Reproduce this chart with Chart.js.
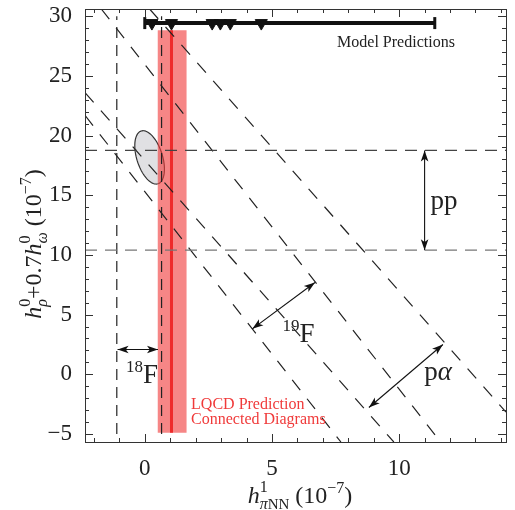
<!DOCTYPE html>
<html>
<head>
<meta charset="utf-8">
<script src="https://cdn.jsdelivr.net/npm/chart.js@4/dist/chart.umd.min.js"></script>
<style>
  html, body { margin: 0; padding: 0; background: #fff; }
  #wrap { width: 515px; height: 510px; }
</style>
</head>
<body>
<div id="wrap"><canvas id="c"></canvas></div>
<script>
// ---- data (units of 1e-7) ----
const xTickLabels = [0, 5, 10];
const yTickLabels = [-5, 0, 5, 10, 15, 20, 25, 30];

// pp band (horizontal) and 18F band (vertical)
const ppLevels = [18.75, 10.4];
const f18Levels = [-1.1, 0.66];
// diagonal bands, [x, y] endpoints
const f19Upper = [[-1.71, 30.6], [11.63, -5.67]];
const f19Lower = [[-2.35, 21.69], [7.71, -5.67]];
const pAlphaUpper = [[0.19, 30.6], [14.2, -3.16]];
const pAlphaLower = [[-2.35, 23.59], [9.79, -5.67]];

// model predictions for h1_pi
const modelRange = [0, 11.4];
const modelLevel = 29.42;
const modelPoints = [0.28, 1.05, 2.65, 2.97, 3.36, 4.58];

// LQCD connected-diagram prediction
const lqcdValue = 1.05;
const lqcdBand = [0.5, 1.65];
const lqcdSpan = [-4.9, 28.83];

// ellipse: centre and two half-axis vectors
const ellipseCenter = [0.19, 18.17];
const ellipseAxes = [[0.33, -2.21], [-0.48, -0.33]];

// double arrows
const ppArrow = [[11.0, 18.75], [11.0, 10.4]];
const f18Arrow = [[-1.07, 2.08], [0.52, 2.08]];
const f19Arrow = [[4.23, 3.81], [6.69, 7.69]];
const pAlphaArrow = [[8.81, -2.78], [11.72, 2.5]];

const xMin = -2.35, xMax = 14.2, yMin = -5.67, yMax = 30.6;
const FONT = "'Liberation Serif', 'DejaVu Serif', serif";

function pts(a) { return a.map(p => ({x: p[0], y: p[1]})); }
function dashed(a, color, dash) {
  return { data: pts(a), showLine: true, borderColor: color, borderWidth: 1.2,
           borderDash: dash, pointRadius: 0, fill: false, order: 2 };
}

const datasets = [];
// red band and line
datasets.push({ data: [{x: lqcdBand[0], y: lqcdSpan[1]}, {x: lqcdBand[1], y: lqcdSpan[1]}],
  showLine: true, borderWidth: 0, pointRadius: 0, fill: {value: lqcdSpan[0]},
  backgroundColor: 'rgba(240,60,60,0.62)', order: 10 });
datasets.push({ data: [{x: lqcdValue, y: lqcdSpan[0]}, {x: lqcdValue, y: lqcdSpan[1]}],
  showLine: true, borderColor: '#ee2a2a', borderWidth: 3, pointRadius: 0, fill: false, order: 9 });
// bands
ppLevels.forEach((v, i) => datasets.push(dashed([[xMin, v], [xMax, v]], i == 0 ? '#444' : '#777', [12, 8])));
f18Levels.forEach(v => datasets.push(dashed([[v, -5], [v, 30]], '#222', [11, 7])));
[f19Upper, f19Lower, pAlphaUpper, pAlphaLower].forEach(l => datasets.push(dashed(l, '#222', [13, 11])));
// model predictions
datasets.push({ data: [{x: modelRange[0], y: modelLevel}, {x: modelRange[1], y: modelLevel}],
  showLine: true, borderColor: '#111', borderWidth: 4, pointStyle: 'line', rotation: 90,
  pointRadius: 6, pointBorderWidth: 3, pointBorderColor: '#111', fill: false, order: 1 });
datasets.push({ data: modelPoints.map(v => ({x: v, y: modelLevel})),
  pointStyle: 'triangle', rotation: 180, pointRadius: 7, pointBackgroundColor: '#111',
  pointBorderColor: '#111', pointBorderWidth: 1, order: 0 });

function px(chart, p) {
  return [chart.scales.x.getPixelForValue(p[0]), chart.scales.y.getPixelForValue(p[1])];
}

function arrowHead(ctx, x, y, ang) {
  const L = 11, W = 3.8;
  ctx.beginPath();
  ctx.moveTo(x, y);
  ctx.lineTo(x - L * Math.cos(ang) + W * Math.sin(ang), y - L * Math.sin(ang) - W * Math.cos(ang));
  ctx.lineTo(x - L * Math.cos(ang) * 0.75, y - L * Math.sin(ang) * 0.75);
  ctx.lineTo(x - L * Math.cos(ang) - W * Math.sin(ang), y - L * Math.sin(ang) + W * Math.cos(ang));
  ctx.closePath();
  ctx.fill();
}
function doubleArrow(chart, a) {
  const ctx = chart.ctx;
  const [x1, y1] = px(chart, a[0]), [x2, y2] = px(chart, a[1]);
  const ang = Math.atan2(y2 - y1, x2 - x1);
  ctx.strokeStyle = '#111'; ctx.fillStyle = '#111'; ctx.lineWidth = 1.1;
  ctx.beginPath(); ctx.moveTo(x1, y1); ctx.lineTo(x2, y2); ctx.stroke();
  arrowHead(ctx, x2, y2, ang);
  arrowHead(ctx, x1, y1, ang + Math.PI);
}

// rich text: parts {t, s, i, dy, hold}
function richWidth(ctx, parts) {
  let w = 0;
  parts.forEach(p => { ctx.font = (p.i ? 'italic ' : '') + p.s + 'px ' + FONT; if (!p.hold) w += ctx.measureText(p.t).width; });
  return w;
}
function rich(ctx, x, y, parts) {
  let cx = x;
  ctx.textAlign = 'left'; ctx.textBaseline = 'alphabetic';
  parts.forEach(p => {
    ctx.font = (p.i ? 'italic ' : '') + p.s + 'px ' + FONT;
    ctx.fillText(p.t, cx, y + (p.dy || 0));
    if (!p.hold) cx += ctx.measureText(p.t).width;
  });
}

const xTitle = [
  {t: 'h', s: 24, i: true}, {t: '1', s: 16, dy: -11, hold: true},
  {t: 'π', s: 16, i: true, dy: 6}, {t: 'NN', s: 15, dy: 6},
  {t: ' (10', s: 24}, {t: '−7', s: 16, dy: -10}, {t: ')', s: 24}
];
const yTitle = [
  {t: 'h', s: 24, i: true}, {t: '0', s: 16, dy: -11, hold: true}, {t: 'ρ', s: 16, i: true, dy: 6},
  {t: '+0.7', s: 24}, {t: 'h', s: 24, i: true}, {t: '0', s: 16, dy: -11, hold: true},
  {t: 'ω', s: 16, i: true, dy: 6}, {t: ' (10', s: 24}, {t: '−7', s: 16, dy: -10}, {t: ')', s: 24}
];

const decor = {
  id: 'decor',
  beforeDatasetsDraw(chart) {
    const ctx = chart.ctx;
    ctx.save();
    ctx.beginPath();
    for (let k = 0; k <= 90; k++) {
      const t = k / 90 * 2 * Math.PI;
      const p = [ellipseCenter[0] + ellipseAxes[0][0] * Math.cos(t) + ellipseAxes[1][0] * Math.sin(t),
                 ellipseCenter[1] + ellipseAxes[0][1] * Math.cos(t) + ellipseAxes[1][1] * Math.sin(t)];
      const [x, y] = px(chart, p);
      k == 0 ? ctx.moveTo(x, y) : ctx.lineTo(x, y);
    }
    ctx.closePath();
    ctx.fillStyle = '#e0e0e3'; ctx.fill();
    ctx.strokeStyle = '#333'; ctx.lineWidth = 1.2; ctx.stroke();
    ctx.restore();
  },
  afterDatasetsDraw(chart) {
    const ctx = chart.ctx, a = chart.chartArea;
    ctx.save();
    // frame with inward ticks on all sides
    ctx.strokeStyle = '#333'; ctx.lineWidth = 1;
    ctx.strokeRect(a.left + 0.5, a.top + 0.5, a.right - a.left, a.bottom - a.top);
    ctx.beginPath();
    for (let v = -2; v <= 14; v++) {
      const x = Math.round(chart.scales.x.getPixelForValue(v)) + 0.5;
      const L = v % 5 == 0 ? 8 : 4;
      ctx.moveTo(x, a.bottom); ctx.lineTo(x, a.bottom - L);
      ctx.moveTo(x, a.top); ctx.lineTo(x, a.top + L);
    }
    for (let v = -5; v <= 30; v++) {
      const y = Math.round(chart.scales.y.getPixelForValue(v)) + 0.5;
      const L = v % 5 == 0 ? 8 : 4;
      ctx.moveTo(a.left, y); ctx.lineTo(a.left + L, y);
      ctx.moveTo(a.right, y); ctx.lineTo(a.right - L, y);
    }
    ctx.stroke();

    [ppArrow, f18Arrow, f19Arrow, pAlphaArrow].forEach(ar => doubleArrow(chart, ar));

    ctx.fillStyle = '#222';
    let p = px(chart, [11.23, 13.88]);
    rich(ctx, p[0], p[1], [{t: 'pp', s: 27}]);
    p = px(chart, [-0.74, -0.74]);
    rich(ctx, p[0], p[1], [{t: '18', s: 17, dy: -11}, {t: 'F', s: 27}]);
    p = px(chart, [5.41, 2.68]);
    rich(ctx, p[0], p[1], [{t: '19', s: 17, dy: -11}, {t: 'F', s: 27}]);
    p = px(chart, [10.99, -0.49]);
    rich(ctx, p[0], p[1], [{t: 'p', s: 27}, {t: 'α', s: 27, i: true}]);
    p = px(chart, [7.56, 27.44]);
    rich(ctx, p[0], p[1], [{t: 'Model Predictions', s: 16}]);
    ctx.fillStyle = '#f03a3a';
    p = px(chart, [1.82, -2.92]);
    rich(ctx, p[0], p[1], [{t: 'LQCD Prediction', s: 16}]);
    p = px(chart, [1.82, -4.17]);
    rich(ctx, p[0], p[1], [{t: 'Connected Diagrams', s: 16}]);

    // axis titles
    ctx.fillStyle = '#222';
    const wx = richWidth(ctx, xTitle);
    rich(ctx, 300 - wx / 2, 503, xTitle);
    const wy = richWidth(ctx, yTitle);
    ctx.translate(41, 244); ctx.rotate(-Math.PI / 2);
    rich(ctx, -wy / 2, 0, yTitle);
    ctx.restore();
  }
};

function setTicks(vals) {
  return function(scale) { scale.ticks = vals.map(v => ({value: v})); };
}

new Chart(document.getElementById('c'), {
  type: 'scatter',
  data: { datasets: datasets },
  options: {
    responsive: true, maintainAspectRatio: false, animation: false,
    devicePixelRatio: 1,
    layout: { padding: { top: 8, right: 0, left: 0, bottom: 0 } },
    plugins: { legend: { display: false }, tooltip: { enabled: false } },
    scales: {
      x: {
        type: 'linear', min: xMin, max: xMax,
        grid: { display: false }, border: { display: false },
        afterBuildTicks: setTicks(xTickLabels),
        ticks: { font: { family: FONT, size: 23 }, color: '#222', padding: 5, maxRotation: 0 },
        afterFit(s) { s.height = 68; s.paddingLeft = 0; s.paddingRight = 0; }
      },
      y: {
        type: 'linear', min: yMin, max: yMax,
        grid: { display: false }, border: { display: false },
        afterBuildTicks: setTicks(yTickLabels),
        ticks: { font: { family: FONT, size: 23 }, color: '#222', padding: 5,
                 callback: v => v < 0 ? '−' + Math.abs(v) : v },
        afterFit(s) { s.width = 85; s.paddingTop = 0; s.paddingBottom = 0; }
      }
    }
  },
  plugins: [decor]
});
</script>
</body>
</html>
